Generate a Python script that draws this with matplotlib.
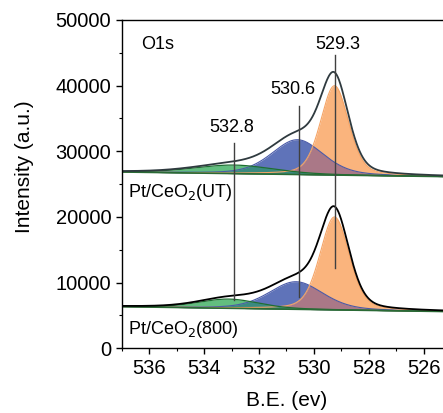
import numpy as np
import matplotlib
matplotlib.use('Agg')
import matplotlib.pyplot as plt

plt.rcParams['font.family'] = ['Liberation Sans', 'DejaVu Sans']

# peak parameters: order = O-lattice, O-vacancy, O-surface
centers_ut = [529.25, 530.6, 532.9]
heights_ut = [13600, 5300, 1300]
fwhm_ut = [1.2, 2.2, 3.4]
base_ut = [26850, 26150]          # baseline at 537 and 525.3 eV

centers_800 = [529.25, 530.65, 533.1]
heights_800 = [14150, 4200, 1400]
fwhm_800 = [1.25, 2.3, 2.6]
base_800 = [6340, 5600]

peak_labels = ['529.3', '530.6', '532.8']
line_x = [529.25, 530.55, 532.9]
line_top = [44700, 36900, 31300]
line_bottom = [12290, 7870, 7360]

x = np.linspace(537, 525.3, 600)
eta = 0.3


def pv(c, h, w):
    s = w / 2.3548
    g = np.exp(-0.5 * ((x - c) / s) ** 2)
    l = 1 / (1 + ((x - c) / (w / 2)) ** 2)
    return h * ((1 - eta) * g + eta * l)


fig = plt.figure(figsize=(4.43, 4.13), dpi=100)
ax = fig.add_axes([0.2747, 0.1567, 0.7253, 0.7949])

for cen, hei, fw, base, env_col in [(centers_ut, heights_ut, fwhm_ut, base_ut, '#2f3a3f'),
                                     (centers_800, heights_800, fwhm_800, base_800, 'black')]:
    bl = base[0] + (x - 537) / (525.3 - 537) * (base[1] - base[0])
    o, b, g = [pv(c, h, w) for c, h, w in zip(cen, hei, fw)]
    ax.fill_between(x, bl, bl + b, color='#5f73b9', lw=0)
    ax.plot(x, bl + b, color='#4a5aa8', lw=0.8)
    ax.fill_between(x, bl, bl + o, color='#fab47d', lw=0)
    ax.plot(x, bl + o, color='#f5a466', lw=0.8)
    ax.fill_between(x, bl, bl + np.minimum(o, b), color='#aa7887', lw=0)
    ax.fill_between(x, bl, bl + g, color='#62be7f', lw=0)
    ax.fill_between(x, bl, bl + np.minimum(g, b), color='#3a8a80', lw=0)
    ax.plot(x, bl + g, color='#1e6e32', lw=0.9)
    ax.plot(x, bl, color='#2a6a35', lw=1.2)
    ax.plot(x, bl + o + b + g, color=env_col, lw=1.3)

for lx, lt, lb in zip(line_x, line_top, line_bottom):
    ax.plot([lx, lx], [lb, lt], color='#404040', lw=1.0)

ax.text(535.68, 46235, 'O1s', ha='center', va='center', fontsize=13)
ax.text(529.13, 46235, peak_labels[0], ha='center', va='center', fontsize=13)
ax.text(530.78, 39375, peak_labels[1], ha='center', va='center', fontsize=13)
ax.text(533.0, 33580, peak_labels[2], ha='center', va='center', fontsize=13)
ax.text(536.77, 23670, 'Pt/CeO$_2$(UT)', ha='left', va='center', fontsize=13)
ax.text(536.77, 2790, 'Pt/CeO$_2$(800)', ha='left', va='center', fontsize=13)

ax.set_xlim(537, 525.3)
ax.set_ylim(0, 50000)
ax.set_xticks(np.arange(536, 525, -2))
ax.set_xticks(np.arange(537, 525, -1), minor=True)
ax.set_yticks(np.arange(0, 50001, 10000))
ax.set_yticks(np.arange(0, 50001, 5000), minor=True)
ax.tick_params(which='major', direction='out', length=4, width=1, labelsize=14.5)
ax.tick_params(which='minor', direction='out', length=2.2, width=0.8)
ax.spines['right'].set_visible(False)
for s in ['left', 'top', 'bottom']:
    ax.spines[s].set_linewidth(1.0)

fig.text(287 / 443, 1 - 401 / 413, 'B.E. (ev)', ha='center', va='center', fontsize=15)
fig.text(25 / 443, 1 - 167 / 413, 'Intensity (a.u.)', ha='center', va='center',
         rotation=90, fontsize=15)

fig.savefig('out.png', dpi=100)
